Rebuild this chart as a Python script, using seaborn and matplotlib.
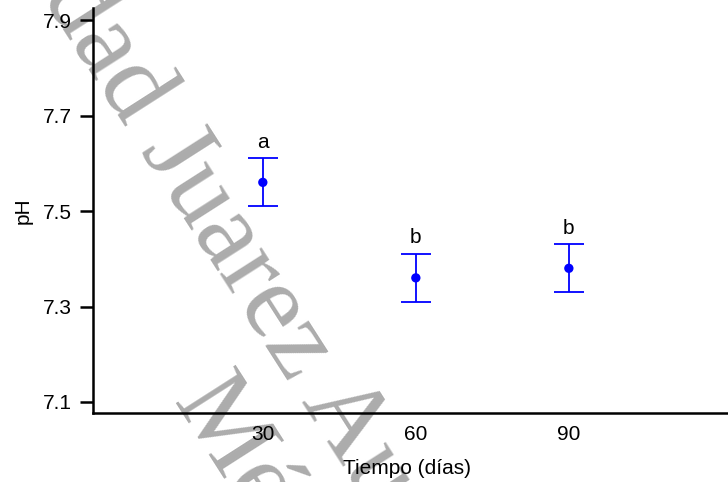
import numpy as np
import pandas as pd
import seaborn as sns
import matplotlib.pyplot as plt

# mean pH per sampling day, with the error bar half-width and the Tukey letters
dias = [30, 60, 90]
ph_media = [7.56, 7.36, 7.38]
ph_error = [0.05, 0.05, 0.05]
letras = ['a', 'b', 'b']

df = pd.DataFrame({'dias': dias, 'ph': ph_media, 'err': ph_error})

sns.set_style('ticks')
plt.rcParams['font.family'] = ['Liberation Sans', 'DejaVu Sans']
plt.rcParams.update({'text.color': 'black', 'axes.labelcolor': 'black',
                     'xtick.color': 'black', 'ytick.color': 'black',
                     'axes.edgecolor': 'black'})

fig = plt.figure(figsize=(7.28, 4.82), dpi=100)
ax = fig.add_axes([0.1277, 0.1432, 0.8723, 0.840])
ax.patch.set_alpha(0)

# watermark behind the chart
wm = dict(family=['Liberation Serif', 'DejaVu Serif'], fontsize=78, color='#acacac',
          rotation=-57.4, rotation_mode='anchor', va='baseline', zorder=-5)
fig.text(140 / 728, 1 - 150 / 482, 'Universidad ', ha='right', **wm)
fig.text(140 / 728, 1 - 150 / 482, 'Juarez Autónoma de Tabasco', ha='left', **wm)
fig.text(172 / 728, 1 - 402 / 482, 'México', ha='left', **wm)

ax.errorbar(df['dias'], df['ph'], yerr=df['err'], fmt='none', ecolor='#0000ff',
            elinewidth=1.3, capsize=11, capthick=1.3, zorder=2)
sns.scatterplot(data=df, x='dias', y='ph', ax=ax, color='#0000ff', s=45,
                edgecolor='none', zorder=3)

for x, m, e, l in zip(dias, ph_media, ph_error, letras):
    ax.text(x, m + e + 0.022, l, ha='center', va='baseline', fontsize=15)

ax.set_xlim(-3.3, 121.2)
ax.set_ylim(7.077, 7.925)
ax.set_xticks(dias)
ax.set_yticks([7.1, 7.3, 7.5, 7.7, 7.9])
ax.set_yticklabels(['7.1', '7.3', '7.5', '7.7', '7.9'])

sns.despine(ax=ax)
for s in ['left', 'bottom']:
    ax.spines[s].set_linewidth(1.8)
ax.tick_params(axis='y', length=9.4, width=1.8, pad=5.5, labelsize=15)
ax.tick_params(axis='x', length=0, pad=9, labelsize=15)

ax.set_xlabel('Tiempo (días)', fontsize=15, va='center')
ax.set_ylabel('pH', fontsize=15, va='center')
ax.xaxis.set_label_coords(0.495, -0.138)
ax.yaxis.set_label_coords(-0.110, 0.5)

fig.savefig('out.png', dpi=100)
